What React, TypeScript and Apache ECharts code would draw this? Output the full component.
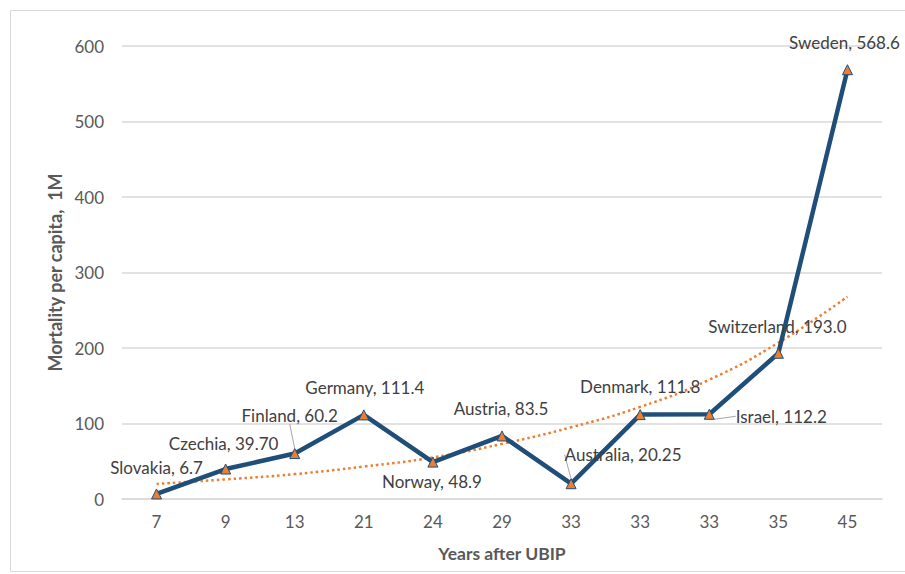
import React, { useEffect, useRef } from "react";
import * as echarts from "echarts";

const categories = ["7", "9", "13", "21", "24", "29", "33", "33", "33", "35", "45"];
const countries = ["Slovakia", "Czechia", "Finland", "Germany", "Norway", "Austria", "Australia", "Denmark", "Israel", "Switzerland", "Sweden"];
const valueLabels = ["6.7", "39.70", "60.2", "111.4", "48.9", "83.5", "20.25", "111.8", "112.2", "193.0", "568.6"];
const mortality = [6.7, 39.7, 60.2, 111.4, 48.9, 83.5, 20.25, 111.8, 112.2, 193.0, 568.6];
const trend = [20, 26, 33, 43, 55, 73, 95, 122, 158, 207, 268];
const yTicks = [0, 100, 200, 300, 400, 500, 600];

const labelOffsets: number[][] = [
  [0, -26], [-2, -26], [-5, -38], [1, -27], [-1, 19], [-1, -27],
  [52, -29], [0, -28], [72, 2], [-1, -27], [-3, -27],
];
const withLeader = [false, false, true, false, false, false, true, false, true, false, false];

export default function App() {
  const ref = useRef<HTMLDivElement>(null);
  useEffect(() => {
    if (!ref.current) return;
    const chart = echarts.init(ref.current, null, { renderer: "svg" });
    const font = "Lato, 'Open Sans', sans-serif";
    chart.setOption({
      animation: false,
      backgroundColor: "#ffffff",
      textStyle: { fontFamily: font },
      graphic: [
        {
          type: "rect",
          shape: { x: 10.5, y: 10.5, width: 910, height: 561 },
          style: { fill: "none", stroke: "#D9D9D9", lineWidth: 1 },
          silent: true,
        },
      ],
      grid: { left: 122, right: 23, top: 46, bottom: 75, containLabel: false },
      xAxis: {
        type: "category",
        data: categories,
        boundaryGap: true,
        name: "Years after UBIP",
        nameLocation: "middle",
        nameGap: 45,
        nameTextStyle: { fontFamily: font, fontSize: 17.5, fontWeight: "bold", color: "#595959" },
        axisLine: { show: true, lineStyle: { color: "#D9D9D9", width: 1.5 } },
        axisTick: { show: false },
        axisLabel: { fontFamily: font, fontSize: 17, color: "#595959", margin: 14 },
        splitLine: { show: false },
      },
      yAxis: {
        type: "value",
        min: yTicks[0],
        max: yTicks[yTicks.length - 1],
        interval: 100,
        name: "Mortality per capita,  1M",
        nameLocation: "middle",
        nameGap: 53,
        nameTextStyle: { fontFamily: font, fontSize: 18, fontWeight: "bold", color: "#595959" },
        axisLine: { show: false },
        axisTick: { show: false },
        axisLabel: { fontFamily: font, fontSize: 17, color: "#595959", margin: 18 },
        splitLine: { show: true, lineStyle: { color: "#D9D9D9", width: 1.5 } },
      },
      series: [
        {
          name: "Trend",
          type: "line",
          data: trend,
          smooth: true,
          symbol: "none",
          lineStyle: { color: "#ED7D31", width: 2.5, type: [2.5, 3] },
          z: 3,
          silent: true,
        },
        {
          name: "Mortality",
          type: "line",
          data: mortality.map((v, i) => ({
            value: v,
            labelLine: { show: withLeader[i], lineStyle: { color: "#A6A6A6", width: 1 } },
          })),
          symbol: "triangle",
          symbolSize: 10,
          itemStyle: { color: "#ED7D31", borderColor: "#1F4E79", borderWidth: 1 },
          lineStyle: { color: "#1F4E79", width: 4.5 },
          z: 4,
          label: {
            show: true,
            position: "inside",
            align: "center",
            verticalAlign: "middle",
            fontFamily: font,
            fontSize: 17,
            color: "#404040",
            formatter: (p: any) => `${countries[p.dataIndex]}, ${valueLabels[p.dataIndex]}`,
          },
          labelLayout: (p: any) => ({
            dx: labelOffsets[p.dataIndex][0],
            dy: labelOffsets[p.dataIndex][1],
          }),
        },
      ],
    });
    return () => chart.dispose();
  }, []);
  return (
    <div
      ref={ref}
      style={{ position: "absolute", left: 0, top: 0, width: 905, height: 574 }}
    />
  );
}
